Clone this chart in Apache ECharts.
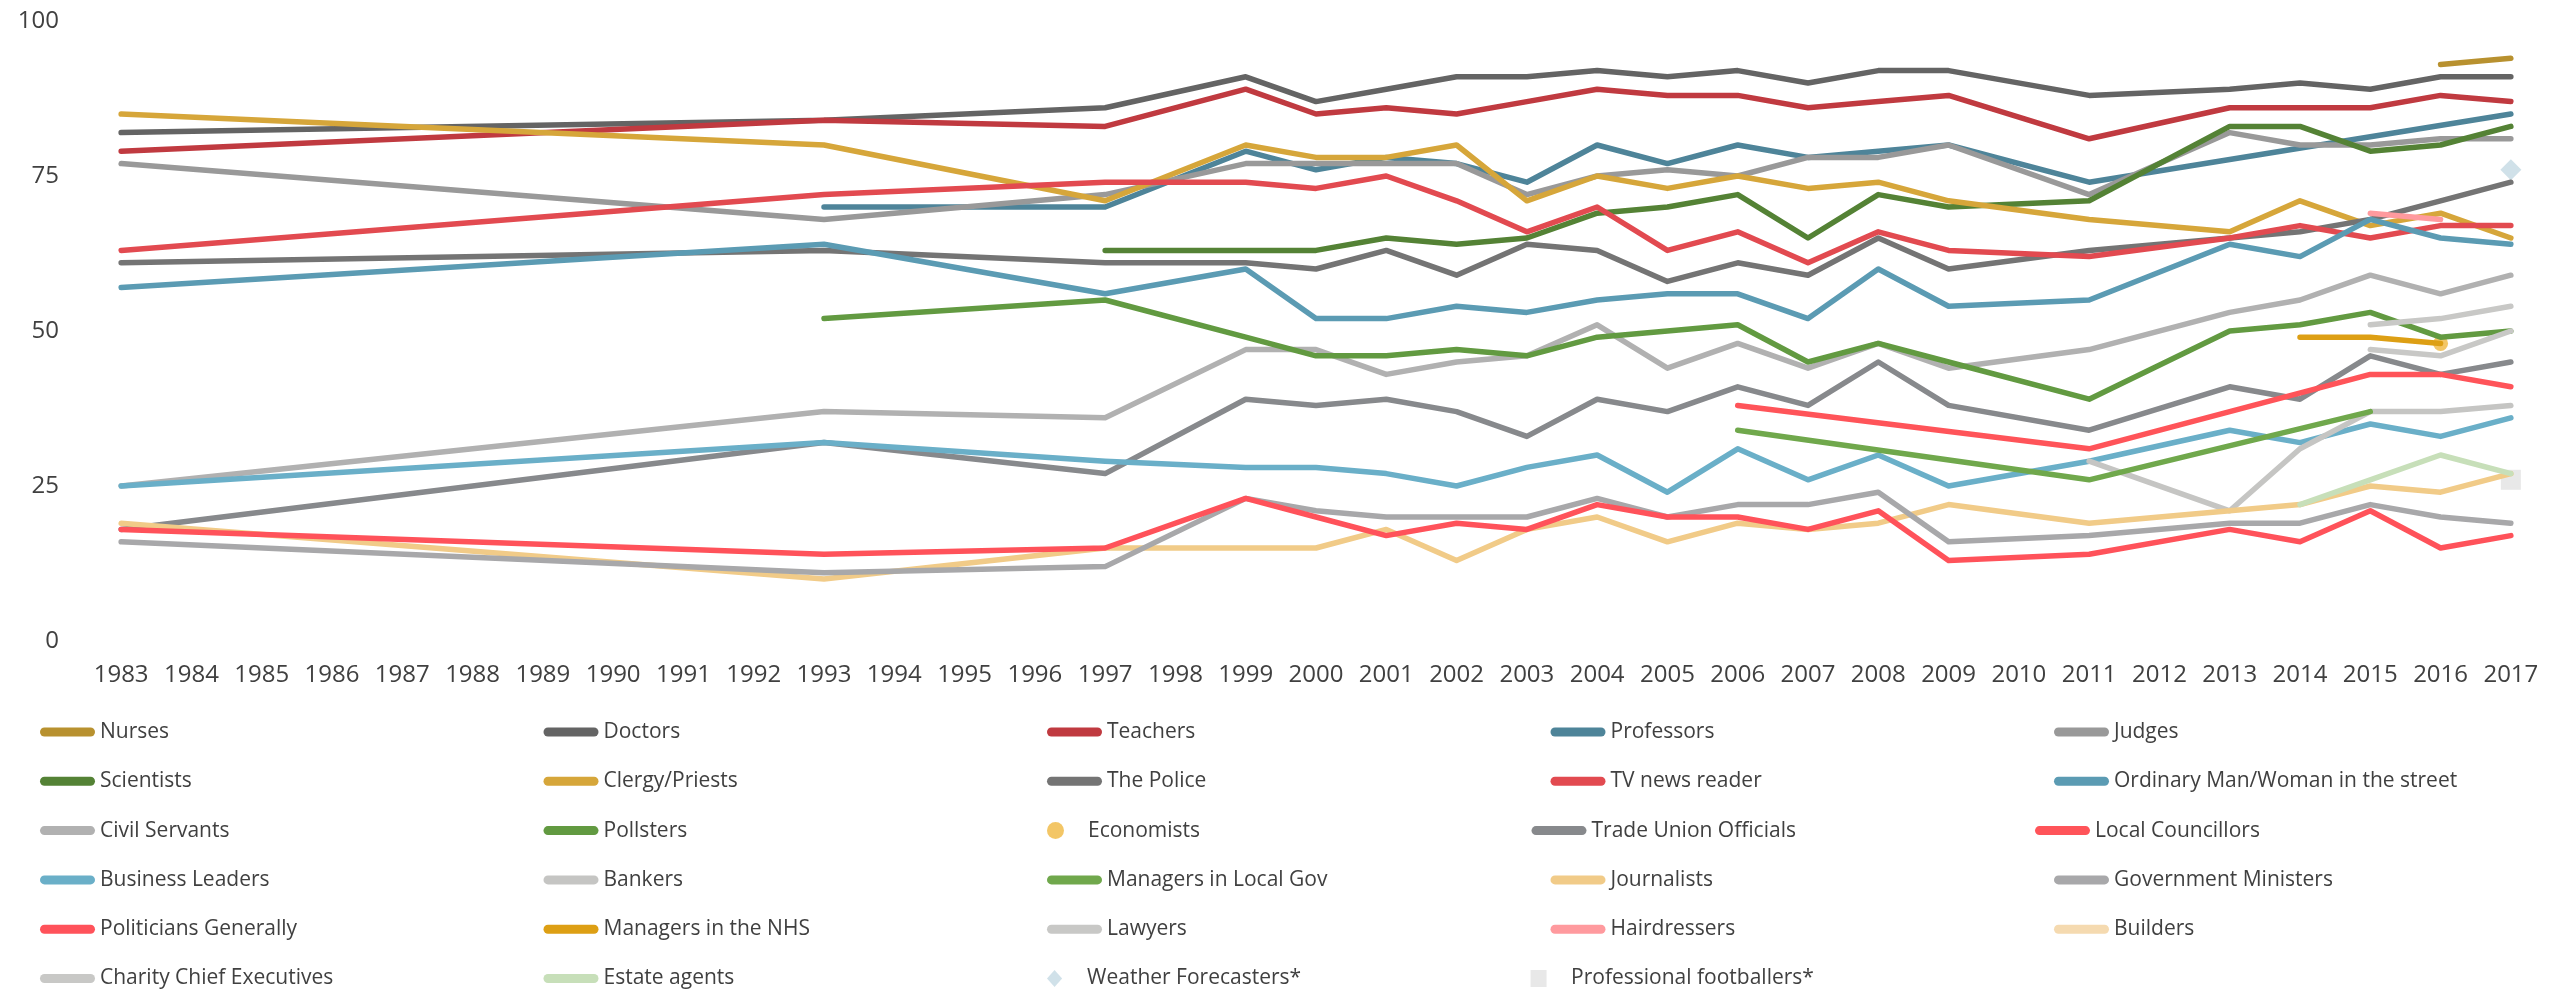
<!DOCTYPE html>
<html>
<head>
<meta charset="utf-8">
<title>Trust in professions</title>
<script src="https://cdn.jsdelivr.net/npm/echarts@6/dist/echarts.min.js"></script>
<style>
html, body { margin: 0; padding: 0; background: #fff; }
#chart { width: 2572px; height: 993px; }
</style>
</head>
<body>
<div id="chart"></div>
<script>
var _ = null;

// x axis categories (every year, most of them have no survey)
var years = ['1983','1984','1985','1986','1987','1988','1989','1990','1991','1992','1993','1994','1995',
	'1996','1997','1998','1999','2000','2001','2002','2003','2004','2005','2006','2007','2008','2009',
	'2010','2011','2012','2013','2014','2015','2016','2017'];
var yTicks = [0, 25, 50, 75, 100];

// years in which the survey was run; every series below follows this order
var surveyYears = ['1983','1993','1997','1999','2000','2001','2002','2003','2004','2005','2006',
	'2007','2008','2009','2011','2013','2014','2015','2016','2017'];

var nurses           = [_,_,_,_,_,_,_,_,_,_,_,_,_,_,_,_,_,_,93,94];
var doctors          = [82,84,86,91,87,89,91,91,92,91,92,90,92,92,88,89,90,89,91,91];
var teachers         = [79,84,83,89,85,86,85,87,89,88,88,86,87,88,81,86,86,86,88,87];
var professors       = [_,70,70,79,76,78,77,74,80,77,80,78,79,80,74,_,_,_,_,85];
var judges           = [77,68,72,77,77,77,77,72,75,76,75,78,78,80,72,82,80,80,81,81];
var scientists       = [_,_,63,63,63,65,64,65,69,70,72,65,72,70,71,83,83,79,80,83];
var clergy           = [85,80,71,80,78,78,80,71,75,73,75,73,74,71,68,66,71,67,69,65];
var police           = [61,63,61,61,60,63,59,64,63,58,61,59,65,60,63,65,66,68,71,74];
var tvNews           = [63,72,74,74,73,75,71,66,70,63,66,61,66,63,62,65,67,65,67,67];
var ordinaryPerson   = [57,64,56,60,52,52,54,53,55,56,56,52,60,54,55,64,62,68,65,64];
var civilServants    = [25,37,36,47,47,43,45,46,51,44,48,44,48,44,47,53,55,59,56,59];
var pollsters        = [_,52,55,49,46,46,47,46,49,50,51,45,48,45,39,50,51,53,49,50];
var economists       = [_,_,_,_,_,_,_,_,_,_,_,_,_,_,_,_,_,_,48,_];
var tradeUnion       = [18,32,27,39,38,39,37,33,39,37,41,38,45,38,34,41,39,46,43,45];
var localCouncillors = [_,_,_,_,_,_,_,_,_,_,38,_,_,_,31,_,_,43,43,41];
var businessLeaders  = [25,32,29,28,28,27,25,28,30,24,31,26,30,25,29,34,32,35,33,36];
var bankers          = [_,_,_,_,_,_,_,_,_,_,_,_,_,_,29,21,31,37,37,38];
var managersLocalGov = [_,_,_,_,_,_,_,_,_,_,34,_,_,_,26,_,_,37,_,_];
var journalists      = [19,10,15,15,15,18,13,18,20,16,19,18,19,22,19,21,22,25,24,27];
var ministers        = [16,11,12,23,21,20,20,20,23,20,22,22,24,16,17,19,19,22,20,19];
var politicians      = [18,14,15,23,20,17,19,18,22,20,20,18,21,13,14,18,16,21,15,17];
var managersNhs      = [_,_,_,_,_,_,_,_,_,_,_,_,_,_,_,_,49,49,48,_];
var lawyers          = [_,_,_,_,_,_,_,_,_,_,_,_,_,_,_,_,_,51,52,54];
var hairdressers     = [_,_,_,_,_,_,_,_,_,_,_,_,_,_,_,_,_,69,68,_];
var builders         = [_,_,_,_,_,_,_,_,_,_,_,_,_,_,_,_,_,_,_,_];
var charityChiefs    = [_,_,_,_,_,_,_,_,_,_,_,_,_,_,_,_,_,47,46,50];
var estateAgents     = [_,_,_,_,_,_,_,_,_,_,_,_,_,_,_,_,22,26,30,27];
var weatherForecast  = [_,_,_,_,_,_,_,_,_,_,_,_,_,_,_,_,_,_,_,76];
var footballers      = [_,_,_,_,_,_,_,_,_,_,_,_,_,_,_,_,_,_,_,26];

var names = ['Nurses','Doctors','Teachers','Professors','Judges',
	'Scientists','Clergy/Priests','The Police','TV news reader','Ordinary Man/Woman in the street',
	'Civil Servants','Pollsters','Economists','Trade Union Officials','Local Councillors',
	'Business Leaders','Bankers','Managers in Local Gov','Journalists','Government Ministers',
	'Politicians Generally','Managers in the NHS','Lawyers','Hairdressers','Builders',
	'Charity Chief Executives','Estate agents','Weather Forecasters*','Professional footballers*'];
var values = [nurses, doctors, teachers, professors, judges,
	scientists, clergy, police, tvNews, ordinaryPerson,
	civilServants, pollsters, economists, tradeUnion, localCouncillors,
	businessLeaders, bankers, managersLocalGov, journalists, ministers,
	politicians, managersNhs, lawyers, hairdressers, builders,
	charityChiefs, estateAgents, weatherForecast, footballers];

// styles
var colors = ['#b8912f','#646464','#c03a40','#4e8499','#999999',
	'#548235','#d6a63a','#747474','#e24a50','#5b9bb3',
	'#b1b1b1','#629a41','#f0b840','#87898c','#ff5459',
	'#6aafc8','#c5c5c3','#70a84c','#f1cb88','#a8a8aa',
	'#ff525a','#dd9f14','#c8c8c6','#ff9a9e','#f5dab0',
	'#c8c8c6','#c7dfb9','#c4d9e4','#e2e2e2'];
// marker-only series: [symbol in plot, size, legend icon]
var markers = {
	'Economists': ['circle', 15, 'path://M8,0 A8,8 0 1 1 8,16 A8,8 0 1 1 8,0 Z'],
	'Weather Forecasters*': ['diamond', 21, 'path://M8,0 L16,9 L8,18 L0,9 Z'],
	'Professional footballers*': ['rect', 20, 'path://M0,0 L16,0 L16,17 L0,17 Z']
};

var barIcon = 'path://M4.5,0 L50.5,0 A4.5,4.5 0 0 1 50.5,9 L4.5,9 A4.5,4.5 0 0 1 4.5,0 Z';
var font = '"Open Sans", "Noto Sans", sans-serif';

function toCategories(arr) {
	var out = [];
	for (var i = 0; i < years.length; i++) {
		var k = surveyYears.indexOf(years[i]);
		out.push(k >= 0 ? arr[k] : null);
	}
	return out;
}

var chart = echarts.init(document.getElementById('chart'));

var series = [];
for (var i = 0; i < names.length; i++) {
	var m = markers[names[i]];
	if (m) {
		series.push({
			name: names[i], type: 'scatter', color: colors[i],
			symbol: m[0], symbolSize: m[1],
			data: toCategories(values[i]),
			emphasis: { disabled: true }
		});
	} else {
		series.push({
			name: names[i], type: 'line', color: colors[i],
			showSymbol: false, symbol: 'none', connectNulls: true,
			lineStyle: { width: 5.5, cap: 'round', join: 'round' },
			data: toCategories(values[i]),
			emphasis: { disabled: true }
		});
	}
}

// legend: one horizontal legend per row, 5 fixed-width columns
var legends = [];
for (var r = 0; r * 5 < names.length; r++) {
	var items = [];
	for (var j = r * 5; j < Math.min(r * 5 + 5, names.length); j++) {
		var it = { name: names[j] };
		if (markers[names[j]]) it.icon = markers[names[j]][2];
		items.push(it);
	}
	legends.push({
		orient: 'horizontal', left: 40, top: 718 + r * 49.3, padding: 0,
		width: 2525, itemWidth: 55, itemHeight: 17, itemGap: 13.5,
		icon: barIcon, symbolKeepAspect: true, selectedMode: false,
		textStyle: { fontFamily: font, fontSize: 21, color: '#404040', lineHeight: 28, width: 430 },
		data: items
	});
}

var option = {
	animation: false,
	backgroundColor: '#ffffff',
	grid: { left: 86, right: 26, top: 21, bottom: 352, containLabel: false },
	legend: legends,
	xAxis: {
		type: 'category', data: years, boundaryGap: true,
		axisLine: { show: false }, axisTick: { show: false }, splitLine: { show: false },
		axisLabel: { interval: 0, margin: 22, fontFamily: font, fontSize: 24, color: '#404040' }
	},
	yAxis: {
		type: 'value', min: yTicks[0], max: yTicks[yTicks.length - 1], interval: 25,
		axisLine: { show: false }, axisTick: { show: false }, splitLine: { show: false },
		axisLabel: { margin: 27, fontFamily: font, fontSize: 24, color: '#404040' }
	},
	series: series
};
chart.setOption(option);
</script>
</body>
</html>
